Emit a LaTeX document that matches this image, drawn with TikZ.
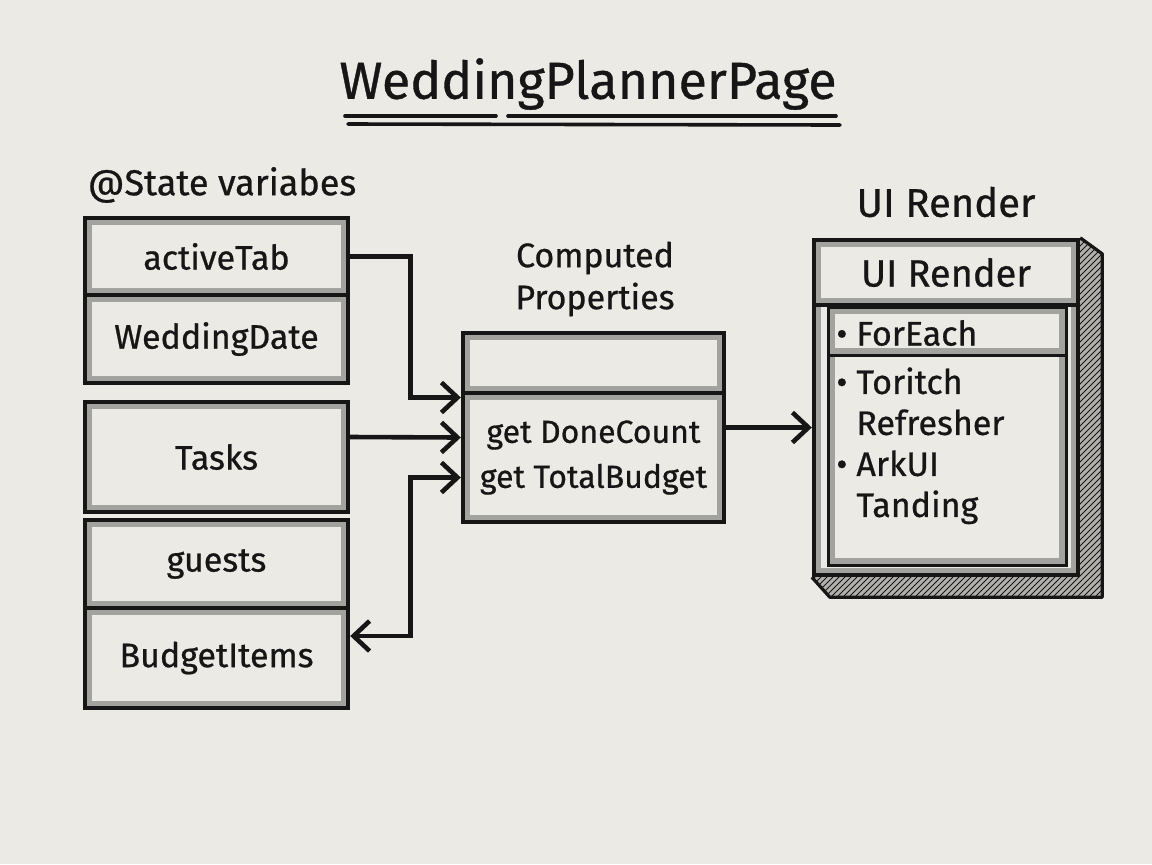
\documentclass[tikz,border=0pt]{standalone}
\usepackage{fontspec}
\setmainfont{Fira Sans}[FakeBold=0.7]
\usepackage{xcolor}
\usepackage{tikz}
\usetikzlibrary{arrows.meta,positioning,patterns,calc}

\definecolor{paper}{RGB}{236,234,229}
\definecolor{ink}{RGB}{22,22,22}
\definecolor{band}{RGB}{162,162,158}

\begin{document}
\begin{tikzpicture}[
    x=0.5pt, y=-0.5pt,
    cell/.style={draw=ink, fill=paper, line width=2.2pt, inner sep=0pt, text=ink,
        font=\fontsize{17}{20}\selectfont, minimum width=131.5pt,
        path picture={\draw[band, line width=7pt] (path picture bounding box.south west) rectangle (path picture bounding box.north east);}},
    lbl/.style={text=ink, align=center, inner sep=0pt},
    arr/.style={draw=ink, line width=2.3pt, -{Straight Barb[length=8pt, width=15pt, line width=2.3pt]}},
    arrboth/.style={draw=ink, line width=2.3pt, {Straight Barb[length=8pt, width=15pt, line width=2.3pt]}-{Straight Barb[length=8pt, width=15pt, line width=2.3pt]}},
]
\fill[paper] (0,0) rectangle (1152,864);
\useasboundingbox (0,0) rectangle (1152,864);

% title
\node[lbl, font=\fontsize{26}{30}\selectfont] (title) at (588,84) {WeddingPlannerPage};
\draw[ink, line width=1.8pt, line cap=round] (345,116) -- (496,116) (508,116) -- (836,116);
\draw[ink, line width=1.8pt, line cap=round] (348,124) -- (840,125);

% state variables
\node[lbl, font=\fontsize{18}{21}\selectfont] (statelbl) at (222,185) {@State variabes};
\node[cell, minimum height=38.5pt] (activetab) at (216.5,256.5) {activeTab};
\node[cell, minimum height=44pt] (weddingdate) at (216.5,339) {WeddingDate};
\node[cell, minimum height=55pt] (tasks) at (216.5,457) {Tasks};
\node[cell, minimum height=44pt] (guests) at (216.5,564) {guests};
\node[cell, minimum height=50pt] (budgetitems) at (216.5,658) {BudgetItems};

% computed properties
\node[lbl, font=\fontsize{17}{21}\selectfont] (complbl) at (595,279) {Computed\\Properties};
\node[cell, minimum width=130.5pt, minimum height=30pt] (comphead) at (593.5,363) {};
\node[cell, minimum width=130.5pt, minimum height=64.5pt, align=center,
      font=\fontsize{16}{22.5}\selectfont] (compbody) at (593.5,457.5) {get DoneCount\\get TotalBudget};

% ui render
\node[lbl, font=\fontsize{20}{24}\selectfont] (uilbl) at (946,202) {UI Render};
\node[cell, minimum width=132pt, minimum height=167.5pt] (uibox) at (946,407.5) {};
\fill[band!80!paper] (uibox.north east) -- ++(22,16) -- ($(uibox.south east)+(22,20)$) -- (uibox.south east) -- cycle;
\fill[band!80!paper] (uibox.south west) -- ++(18,20) -- ($(uibox.south east)+(22,20)$) -- (uibox.south east) -- cycle;
\fill[pattern=north east lines, pattern color=ink] (uibox.north east) -- ++(22,16) -- ($(uibox.south east)+(22,20)$) -- (uibox.south east) -- cycle;
\fill[pattern=north east lines, pattern color=ink] (uibox.south west) -- ++(18,20) -- ($(uibox.south east)+(22,20)$) -- (uibox.south east) -- cycle;
\draw[ink, line width=1.6pt, line join=round] (uibox.north east) -- ++(22,16) -- ($(uibox.south east)+(22,20)$) -- ($(uibox.south west)+(18,20)$) -- (uibox.south west);
\node[cell, minimum width=132pt, minimum height=32.5pt, font=\fontsize{19}{22}\selectfont] (uihead) at (946,272.5) {UI Render};
\node[cell, line width=1.5pt, minimum width=119pt, minimum height=129pt] (uiinner) at (947,436) {};
\node[cell, line width=1.5pt, minimum width=119pt, minimum height=24pt] (uiforeach) at (947,331) {};
\node[lbl, anchor=west, font=\fontsize{17}{20}\selectfont] (foreach) at (836,333) {\textbullet~ForEach};
\node[lbl, anchor=north west, align=left, font=\fontsize{17}{20.5}\selectfont] (uilist) at (836,367)
    {\textbullet~Toritch\\\hphantom{\textbullet~}Refresher\\\textbullet~ArkUI\\\hphantom{\textbullet~}Tanding};

% connectors
\draw[arr] (activetab.east) -- ++(60,0) |- ([yshift=30pt]compbody.west);
\draw[arr] ([yshift=10pt]tasks.east) -- ([yshift=10pt]compbody.west);
\draw[arrboth] ([yshift=11pt]budgetitems.east) -- ++(60,0) |- ([yshift=-10pt]compbody.west);
\draw[arr] ([yshift=15pt]compbody.east) -- ($(compbody.east -| uibox.west)+(0,-30)$);
\end{tikzpicture}
\end{document}
